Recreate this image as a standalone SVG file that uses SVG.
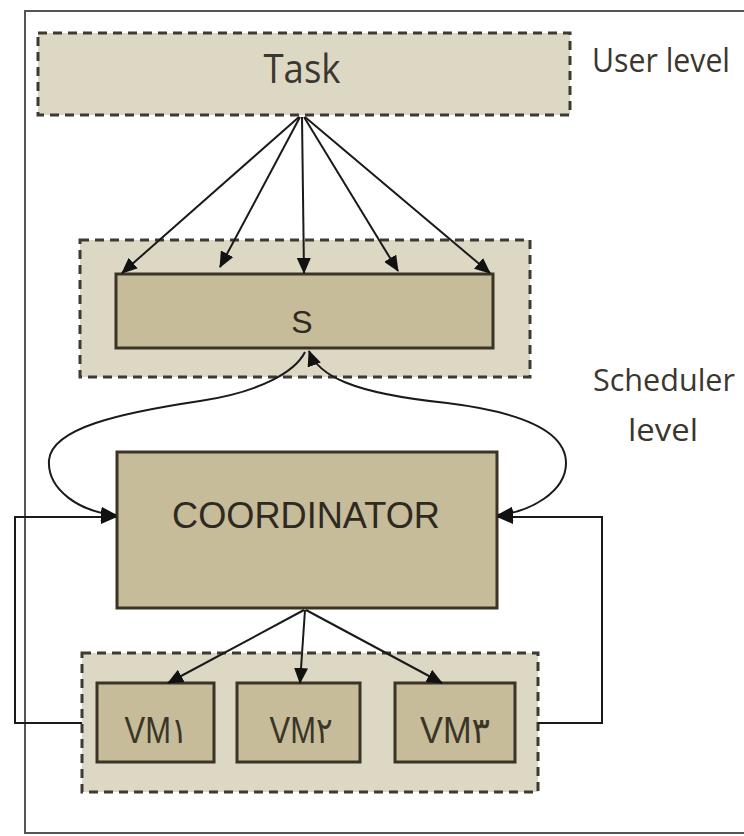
<svg xmlns="http://www.w3.org/2000/svg" width="744" height="836" viewBox="0 0 744 836">
  <style>
    .group { fill: #ddd8c4; stroke: #3d3a33; stroke-width: 3; stroke-dasharray: 9 6; }
    .box { fill: #c6bc99; stroke: #3b3326; stroke-width: 3; }
    .wire { fill: none; stroke: #1a1a1a; stroke-width: 2; }
    .lbl { font-family: "Open Sans", "Noto Sans", sans-serif; fill: #3b372f; }
    .caps { font-family: "Liberation Sans", Arial, sans-serif; fill: #2e2a22; }
    .vm { font-family: "Liberation Sans", "DejaVu Sans", sans-serif; fill: #3a3528; font-size: 36px; text-anchor: middle; }
  </style>
  <defs>
    <marker id="arrow" viewBox="0 0 16 14" refX="15" refY="7" markerWidth="16" markerHeight="14" markerUnits="userSpaceOnUse" orient="auto-start-reverse">
      <path d="M0 0 L16 7 L0 14 Z" fill="#111"/>
    </marker>
  </defs>

  <rect width="744" height="836" fill="#ffffff"/>

  <!-- outer frame -->
  <rect x="25" y="11" width="740" height="822" fill="none" stroke="#555" stroke-width="2"/>

  <!-- user level -->
  <g id="task">
    <rect class="group" x="38" y="33" width="532" height="82"/>
    <text class="lbl" x="302" y="83" font-size="41" text-anchor="middle" textLength="77" lengthAdjust="spacingAndGlyphs">Task</text>
  </g>
  <text class="lbl" x="592" y="72" font-size="32" textLength="138" lengthAdjust="spacingAndGlyphs">User level</text>

  <!-- scheduler level -->
  <g id="scheduler">
    <rect class="group" x="80" y="240" width="450" height="137"/>
    <rect class="box" x="116" y="274" width="377" height="74"/>
    <text class="caps" x="302" y="333" font-size="32" text-anchor="middle">S</text>
  </g>
  <text class="lbl" x="664" y="391" font-size="31" text-anchor="middle" textLength="142" lengthAdjust="spacingAndGlyphs">Scheduler</text>
  <text class="lbl" x="663" y="441" font-size="31" text-anchor="middle" textLength="70" lengthAdjust="spacingAndGlyphs">level</text>

  <g id="coordinator">
    <rect class="box" x="117" y="452" width="380" height="156"/>
    <text class="caps" x="306" y="528" font-size="37" text-anchor="middle" textLength="268" lengthAdjust="spacingAndGlyphs">COORDINATOR</text>
  </g>

  <!-- virtual machines -->
  <g id="vms">
    <rect class="group" x="82" y="653" width="456" height="139"/>
  </g>
  <g id="vm1">
    <rect class="box" x="97" y="683" width="117" height="79"/>
    <text class="vm" x="156" y="743" textLength="63" lengthAdjust="spacingAndGlyphs">VM۱</text>
  </g>
  <g id="vm2">
    <rect class="box" x="237" y="683" width="123" height="79"/>
    <text class="vm" x="301" y="743" textLength="63" lengthAdjust="spacingAndGlyphs">VM۲</text>
  </g>
  <g id="vm3">
    <rect class="box" x="395" y="683" width="120" height="79"/>
    <text class="vm" x="455" y="743" textLength="70" lengthAdjust="spacingAndGlyphs">VM۳</text>
  </g>

  <!-- connectors -->
  <g id="connectors">
    <!-- task fans out to the scheduler -->
    <line class="wire" x1="299" y1="117" x2="122" y2="273" marker-end="url(#arrow)"/>
    <line class="wire" x1="300" y1="117" x2="220" y2="267" marker-end="url(#arrow)"/>
    <line class="wire" x1="302" y1="117" x2="304" y2="273" marker-end="url(#arrow)"/>
    <line class="wire" x1="304" y1="117" x2="398" y2="271" marker-end="url(#arrow)"/>
    <line class="wire" x1="305" y1="117" x2="490" y2="273" marker-end="url(#arrow)"/>

    <!-- scheduler and coordinator exchange -->
    <path class="wire" d="M305 352 C295 372 260 392 200 401 C120 413 52 428 49 460 C47 490 80 512 116 515" marker-end="url(#arrow)"/>
    <path class="wire" d="M309 351 C318 375 350 393 447 403 C520 412 566 430 566 463 C566 492 530 512 498 515" marker-start="url(#arrow)" marker-end="url(#arrow)"/>

    <!-- coordinator dispatches to the VMs -->
    <line class="wire" x1="304" y1="610" x2="168" y2="683" marker-end="url(#arrow)"/>
    <line class="wire" x1="305" y1="610" x2="300" y2="683" marker-end="url(#arrow)"/>
    <line class="wire" x1="306" y1="610" x2="442" y2="683" marker-end="url(#arrow)"/>

    <!-- feedback loops from the VM pool -->
    <polyline class="wire" points="82,723 15,723 15,517 116,517" marker-end="url(#arrow)"/>
    <polyline class="wire" points="538,723 602,723 602,517 498,517" marker-end="url(#arrow)"/>
  </g>
</svg>
